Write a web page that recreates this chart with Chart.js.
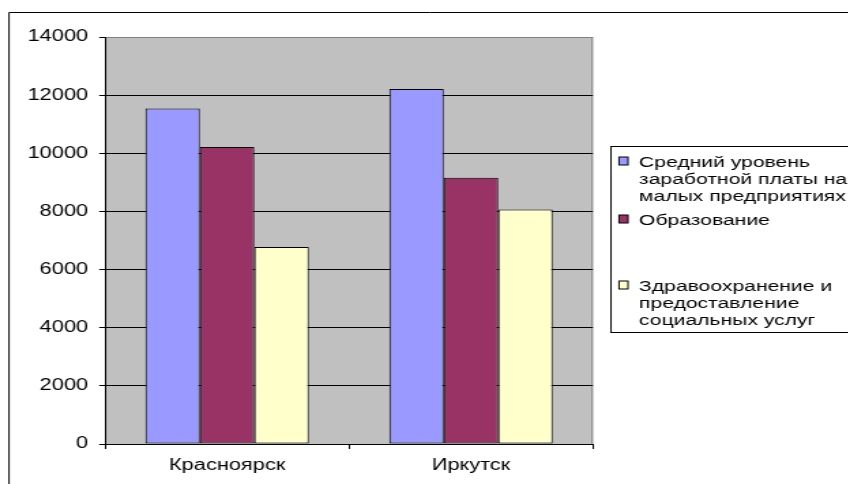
<!DOCTYPE html>
<html>
<head>
<meta charset="utf-8">
<script src="https://cdn.jsdelivr.net/npm/chart.js@4/dist/chart.umd.min.js"></script>
<style>
  html, body { margin: 0; padding: 0; background: #fff; overflow: hidden; }
  #wrap { position: absolute; left: 0; top: 0; height: 484px; transform-origin: 0 0; }
</style>
</head>
<body>
<div id="wrap"><canvas id="c"></canvas></div>
<script>
// data
let cities = ["Красноярск", "Иркутск"];
let avgSmallBiz = [11540, 12210];
let education = [10220, 9160];
let health = [6780, 8070];
let yTicks = [0, 2000, 4000, 6000, 8000, 10000, 12000, 14000];
let seriesNames = [
    ["Средний уровень", "заработной платы на", "малых предприятиях"],
    ["Образование"],
    ["Здравоохранение и", "предоставление", "социальных услуг"]
];
let colors = ["#9999ff", "#993366", "#ffffcc"];

let FONT = "'Liberation Sans', Arial, sans-serif";

// the chart is laid out narrow and stretched sideways by K
let K = 1.36;
let W = 848 / K;
let sx = px => px / K;
let wrap = document.getElementById("wrap");
wrap.style.width = W + "px";
wrap.style.transform = "scaleX(" + K + ")";

// grey plot background, grey right edge, outer frame
let plotBg = {
    id: "plotBg",
    beforeDraw(chart){
        let {ctx, chartArea: a} = chart;
        ctx.save();
        ctx.strokeStyle = "#000";
        ctx.lineWidth = 1;
        ctx.beginPath();
        ctx.moveTo(sx(9), 484);
        ctx.lineTo(sx(9), 12.5);
        ctx.lineTo(W + 10, 12.5);
        ctx.stroke();
        ctx.fillStyle = "#c0c0c0";
        ctx.fillRect(a.left, a.top, a.right - a.left, a.bottom - a.top);
        ctx.strokeStyle = "#808080";
        ctx.beginPath();
        ctx.moveTo(a.right - 0.5, a.top);
        ctx.lineTo(a.right - 0.5, a.bottom);
        ctx.stroke();
        ctx.restore();
    }
};

// boxed legend on the right, multi-line entries
let sideLegend = {
    id: "sideLegend",
    afterDraw(chart){
        let ctx = chart.ctx;
        let firstLine = [163, 221, 287];
        let lh = 17;
        ctx.save();
        ctx.strokeStyle = "#000";
        ctx.lineWidth = 1;
        ctx.strokeRect(sx(610), 146.5, 300, 186);
        ctx.font = "15.5px " + FONT;
        ctx.textBaseline = "middle";
        chart.data.datasets.forEach((ds, i) => {
            let y0 = firstLine[i];
            ctx.fillStyle = ds.backgroundColor;
            ctx.fillRect(sx(618), y0 - 6, sx(9), 8);
            ctx.strokeRect(sx(618), y0 - 6, sx(9), 8);
            ctx.fillStyle = "#000";
            seriesNames[i].forEach((line, j) => {
                ctx.fillText(line, sx(638), y0 + j * lh);
            });
        });
        ctx.restore();
    }
};

let ds = [avgSmallBiz, education, health].map((vals, i) => ({
    label: seriesNames[i].join(" "),
    data: vals,
    backgroundColor: colors[i],
    borderColor: "#000",
    borderWidth: 1,
    borderSkipped: false,
    categoryPercentage: 0.67,
    barPercentage: 1
}));

let chart = new Chart(document.getElementById("c"), {
    type: "bar",
    data: { labels: cities, datasets: ds },
    options: {
        responsive: true,
        maintainAspectRatio: false,
        animation: false,
        devicePixelRatio: 1,
        layout: { padding: { top: 37, right: W - sx(592), left: 0, bottom: 0 } },
        plugins: {
            legend: { display: false },
            tooltip: { enabled: false }
        },
        scales: {
            y: {
                min: 0,
                max: 14000,
                afterFit(s){ s.width = sx(105); },
                afterBuildTicks(s){ s.ticks = yTicks.map(v => ({ value: v })); },
                ticks: {
                    color: "#000",
                    padding: sx(11),
                    font: { family: FONT, size: 16 },
                    callback: v => String(v)
                },
                grid: {
                    color: c => c.tick && c.tick.value === 14000 ? "#808080" : "#000",
                    tickColor: "#000",
                    tickLength: sx(6),
                    lineWidth: 1
                },
                border: { color: "#000", width: 1 }
            },
            x: {
                afterFit(s){ s.height = 40; },
                ticks: {
                    color: "#000",
                    padding: 7,
                    font: { family: FONT, size: 16 }
                },
                grid: {
                    offset: true,
                    drawOnChartArea: false,
                    tickColor: "#000",
                    tickLength: 5
                },
                border: { color: "#000", width: 1 }
            }
        }
    },
    plugins: [plotBg, sideLegend]
});
</script>
</body>
</html>
